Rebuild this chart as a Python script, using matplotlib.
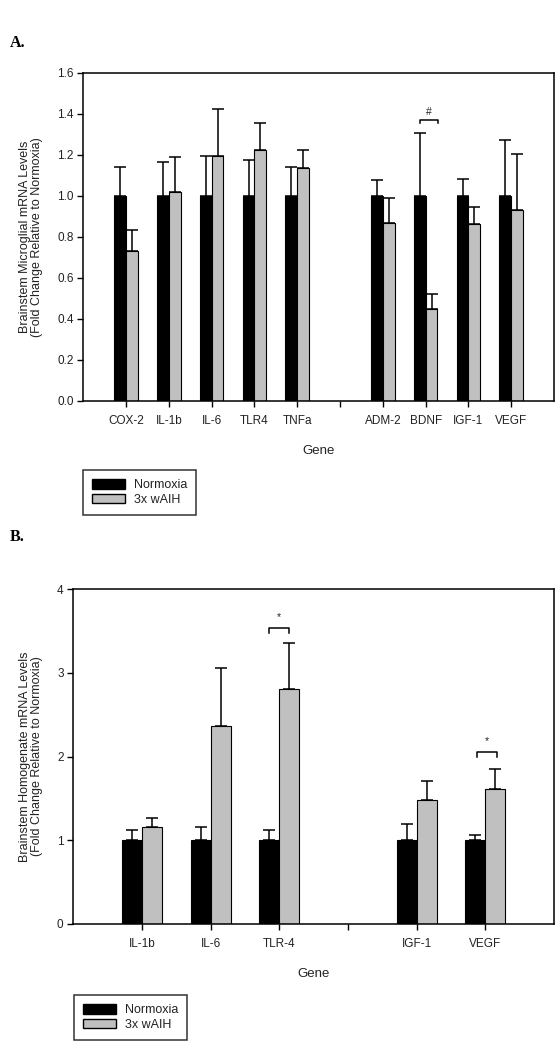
import numpy as np
import matplotlib
matplotlib.use('Agg')
import matplotlib.pyplot as plt
from matplotlib.patches import Patch

plt.rcParams['font.family'] = ['Liberation Sans', 'DejaVu Sans']

# Panel A - microglia
genes_a = ['COX-2', 'IL-1b', 'IL-6', 'TLR4', 'TNFa', 'ADM-2', 'BDNF', 'IGF-1', 'VEGF']
pos_a = [1, 2, 3, 4, 5, 7, 8, 9, 10]
norm_a = [1.0, 1.0, 1.0, 1.0, 1.0, 1.0, 1.0, 1.0, 1.0]
norm_a_top = [1.14, 1.165, 1.195, 1.175, 1.14, 1.075, 1.305, 1.08, 1.27]
aih_a = [0.73, 1.02, 1.195, 1.225, 1.135, 0.865, 0.445, 0.86, 0.93]
aih_a_top = [0.835, 1.19, 1.425, 1.355, 1.225, 0.99, 0.52, 0.945, 1.205]

# Panel B - homogenate
genes_b = ['IL-1b', 'IL-6', 'TLR-4', 'IGF-1', 'VEGF']
pos_b = [1, 2, 3, 5, 6]
norm_b = [1.0, 1.0, 1.0, 1.0, 1.0]
norm_b_top = [1.125, 1.16, 1.125, 1.2, 1.065]
aih_b = [1.16, 2.37, 2.81, 1.48, 1.61]
aih_b_top = [1.27, 3.06, 3.36, 1.705, 1.855]

W, H = 558, 1050
fig = plt.figure(figsize=(W / 100, H / 100), dpi=100)

gray = '#c0c0c0'
tcol = '#222222'


def panel(rect, pos, genes, norm, norm_top, aih, aih_top, xmax, gap, width, ymax, yticks, fmt, ylabel):
    ax = fig.add_axes(rect)
    pos = np.array(pos, dtype=float)
    ax.bar(pos - width, norm, width, align='edge', color='black', edgecolor='black', linewidth=0.8, zorder=2)
    ax.bar(pos, aih, width, align='edge', color=gray, edgecolor='black', linewidth=0.8, zorder=2)
    ax.errorbar(pos - width / 2, norm, yerr=[np.zeros(len(norm)), np.array(norm_top) - np.array(norm)],
                fmt='none', ecolor='black', elinewidth=1.1, capsize=4, capthick=1.1, zorder=1)
    ax.errorbar(pos + width / 2, aih, yerr=[np.zeros(len(aih)), np.array(aih_top) - np.array(aih)],
                fmt='none', ecolor='black', elinewidth=1.1, capsize=4, capthick=1.1, zorder=1)
    ax.set_xlim(0, xmax)
    ax.set_ylim(0, ymax)
    ticks = sorted(list(pos) + [gap])
    labels = []
    for t in ticks:
        labels.append(genes[list(pos).index(t)] if t in list(pos) else '')
    ax.set_xticks(ticks)
    ax.set_xticklabels(labels, fontsize=8.5, color=tcol)
    ax.set_yticks(yticks)
    ax.set_yticklabels([fmt.format(v) for v in yticks], fontsize=8.5, color=tcol)
    ax.tick_params(axis='x', direction='out', length=4, width=1.0, pad=6)
    ax.tick_params(axis='y', direction='out', length=4, width=1.0, pad=3)
    for s in ax.spines.values():
        s.set_linewidth(1.1)
    ax.set_xlabel('Gene', fontsize=9.5, color=tcol, labelpad=13)
    ax.set_ylabel(ylabel, fontsize=9, color=tcol, labelpad=10, linespacing=1.05)
    return ax


ax_a = panel([83.3 / W, 1 - 400.7 / H, (554 - 83.3) / W, 328 / H], pos_a, genes_a,
             norm_a, norm_a_top, aih_a, aih_a_top, 11, 6, 0.275, 1.6,
             [0, 0.2, 0.4, 0.6, 0.8, 1.0, 1.2, 1.4, 1.6], '{:.1f}',
             'Brainstem Microglial mRNA Levels\n(Fold Change Relative to Normoxia)')

ax_b = panel([73.3 / W, 1 - 924 / H, (554 - 73.3) / W, 335 / H], pos_b, genes_b,
             norm_b, norm_b_top, aih_b, aih_b_top, 7, 4, 0.29, 4,
             [0, 1, 2, 3, 4], '{:d}',
             'Brainstem Homogenate mRNA Levels\n(Fold Change Relative to Normoxia)')


def bracket(ax, x0, x1, y, leg, sym, dy, size):
    ax.plot([x0, x0, x1, x1], [y - leg, y, y, y - leg], color='black', lw=1.1, clip_on=False)
    ax.text((x0 + x1) / 2, y + dy, sym, ha='center', va='bottom', fontsize=size, color=tcol)


bracket(ax_a, 8 - 0.14, 8 + 0.28, 1.368, 0.015, '#', 0.015, 7.5)
bracket(ax_b, 3 - 0.155, 3 + 0.135, 3.53, 0.06, '*', 0.07, 7.5)
bracket(ax_b, 6 - 0.12, 6 + 0.17, 2.055, 0.06, '*', 0.07, 7.5)

handles = [Patch(facecolor='black', edgecolor='black', label='Normoxia'),
           Patch(facecolor=gray, edgecolor='black', label='3x wAIH')]
for anchor in [(83 / W, 1 - 470 / H), (74 / W, 1 - 995 / H)]:
    leg = fig.legend(handles=handles, loc='upper left', bbox_to_anchor=anchor, fontsize=9,
                     frameon=True, fancybox=False, edgecolor='black', handlelength=2.6,
                     handleheight=0.75, labelspacing=0.2, borderpad=0.75, handletextpad=0.7,
                     borderaxespad=0)
    leg.get_frame().set_linewidth(1.1)
    for t in leg.get_texts():
        t.set_color(tcol)

fig.text(10 / W, 1 - 43 / H, 'A.', fontsize=11.5, fontweight='bold', family='Liberation Serif', va='center')
fig.text(10 / W, 1 - 537 / H, 'B.', fontsize=11.5, fontweight='bold', family='Liberation Serif', va='center')

fig.savefig('out.png', dpi=100, facecolor='white')
